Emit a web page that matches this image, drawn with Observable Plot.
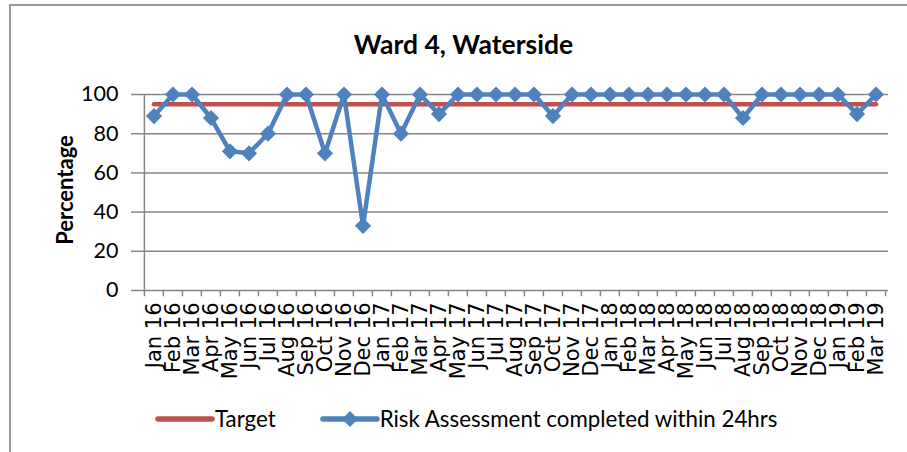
<!DOCTYPE html>
<html>
<head>
<meta charset="utf-8">
<script src="https://cdn.jsdelivr.net/npm/d3@7"></script>
<script src="https://cdn.jsdelivr.net/npm/@observablehq/plot@0.6"></script>
<style>
  html, body { margin: 0; padding: 0; background: #fff; }
  #wrap { position: relative; width: 907px; height: 452px; overflow: hidden; background: #fff; }
  #border { position: absolute; left: 9px; top: 4px; width: 1000px; height: 1000px; border-left: 2px solid #9a9a9a; border-top: 2px solid #9a9a9a; }
  #title { position: absolute; left: 0; width: 927px; top: 28px; text-align: center; font-family: Lato, sans-serif; font-weight: 700; font-size: 26.5px; color: #000; }
  #chart { position: absolute; left: 0; top: 0; }
  #ylabel { position: absolute; left: 64px; top: 190px; transform: translate(-50%, -50%) rotate(-90deg); font-family: Lato, sans-serif; font-weight: 700; font-size: 22px; white-space: nowrap; color: #000; }
  #legend { position: absolute; top: 405px; left: 155px; display: flex; align-items: center; font-family: Lato, sans-serif; font-size: 22.3px; color: #000; white-space: nowrap; }
  #legend .item { display: flex; align-items: center; }
  #legend svg { display: block; }
</style>
</head>
<body>
<div id="wrap">
  <div id="border"></div>
  <div id="title">Ward 4, Waterside</div>
  <div id="chart"></div>
  <div id="ylabel">Percentage</div>
  <div id="legend"></div>
</div>
<script>
const months = ["Jan 16","Feb 16","Mar 16","Apr 16","May 16","Jun 16","Jul 16","Aug 16","Sep 16","Oct 16","Nov 16","Dec 16",
  "Jan 17","Feb 17","Mar 17","Apr 17","May 17","Jun 17","Jul 17","Aug 17","Sep 17","Oct 17","Nov 17","Dec 17",
  "Jan 18","Feb 18","Mar 18","Apr 18","May 18","Jun 18","Jul 18","Aug 18","Sep 18","Oct 18","Nov 18","Dec 18",
  "Jan 19","Feb 19","Mar 19"];
const riskValues = [89,100,100,88,71,70,80,100,100,70,100,33,
  100,80,100,90,100,100,100,100,100,89,100,100,
  100,100,100,100,100,100,100,88,100,100,100,100,
  100,90,100];
const targetValues = months.map(() => 95);
const yTicks = [0,20,40,60,80,100];
const seriesNames = ["Target","Risk Assessment completed within 24hrs"];
const colors = {target: "#C0504D", risk: "#4F81BD"};

const riskData = months.map((m, i) => ({month: m, value: riskValues[i]}));
const targetData = months.map((m, i) => ({month: m, value: targetValues[i]}));

const W = 907, H = 390, mL = 140, mR = 19, mT = 94, mB = 100;
const bw = (W - mL - mR) / months.length;
const grid = "#868686";

const chart = Plot.plot({
  width: W, height: H,
  marginLeft: mL, marginRight: mR, marginTop: mT, marginBottom: mB,
  style: {background: "transparent", overflow: "visible"},
  x: {type: "band", domain: months, padding: 0, axis: null},
  y: {domain: [0, 100], axis: null},
  marks: [
    Plot.ruleY(yTicks, {stroke: grid, strokeWidth: 1.5}),
    Plot.ruleX([months[0]], {dx: -bw / 2, y1: 0, y2: 100, stroke: grid, strokeWidth: 1.5}),
    Plot.ruleX(months, {x: d => d, dx: -bw / 2, y1: 0, y2: -3.2, stroke: grid, strokeWidth: 1.5}),
    Plot.ruleX([months[months.length - 1]], {dx: bw / 2, y1: 0, y2: -3.2, stroke: grid, strokeWidth: 1.5}),
    Plot.axisY(yTicks, {tickSize: 9, tickPadding: 13, stroke: grid, strokeWidth: 1.5, fontSize: 21.5, fontFamily: "Lato, sans-serif", fill: "#000", label: null, strokeOpacity: 1}),
    Plot.axisX(months, {tickSize: 0, tickPadding: 12, tickRotate: -90, fontSize: 21, fontFamily: "DejaVu Sans, sans-serif", fill: "#000", label: null}),
    Plot.line(targetData, {x: "month", y: "value", stroke: colors.target, strokeWidth: 4.5, strokeLinecap: "round"}),
    Plot.line(riskData, {x: "month", y: "value", stroke: colors.risk, strokeWidth: 4.5, strokeLinejoin: "round"}),
    Plot.dot(riskData, {x: "month", y: "value", symbol: "diamond2", r: 7.3, fill: colors.risk, stroke: "none"})
  ]
});
document.getElementById("chart").appendChild(chart);

// legend
const legend = document.getElementById("legend");
function swatch(color, withMarker) {
  const ns = "http://www.w3.org/2000/svg";
  const s = document.createElementNS(ns, "svg");
  s.setAttribute("width", 60); s.setAttribute("height", 20);
  const l = document.createElementNS(ns, "line");
  l.setAttribute("x1", 3); l.setAttribute("x2", 57); l.setAttribute("y1", 10); l.setAttribute("y2", 10);
  l.setAttribute("stroke", color); l.setAttribute("stroke-width", 5.5); l.setAttribute("stroke-linecap", "round");
  s.appendChild(l);
  if (withMarker) {
    const p = document.createElementNS(ns, "path");
    p.setAttribute("d", "M30,2 L38,10 L30,18 L22,10 Z");
    p.setAttribute("fill", color);
    s.appendChild(p);
  }
  return s;
}
seriesNames.forEach((name, i) => {
  const it = document.createElement("div");
  it.className = "item";
  if (i > 0) it.style.marginLeft = "44px";
  it.appendChild(swatch(i === 0 ? colors.target : colors.risk, i === 1));
  const t = document.createElement("span");
  t.textContent = name;
  t.style.marginLeft = "0px";
  it.appendChild(t);
  legend.appendChild(it);
});
</script>
</body>
</html>
